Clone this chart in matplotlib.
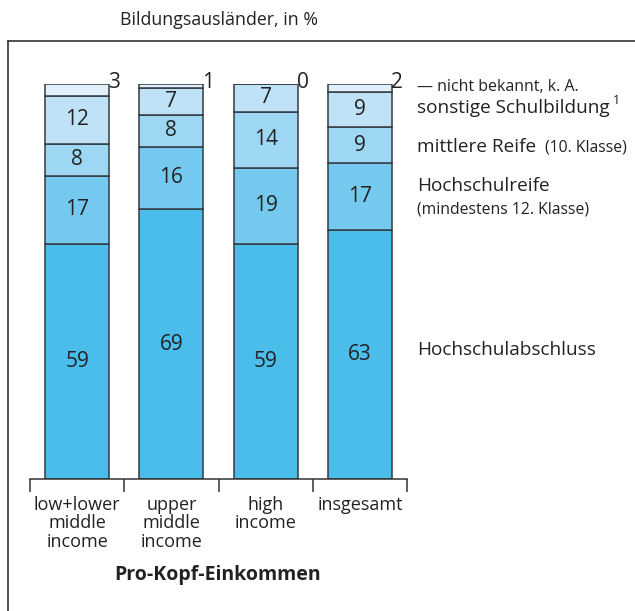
import matplotlib
matplotlib.use("Agg")
import matplotlib.pyplot as plt
from matplotlib.lines import Line2D
import numpy as np

plt.rcParams['font.family'] = ['Open Sans', 'DejaVu Sans']

categories = ["low+lower\nmiddle\nincome", "upper\nmiddle\nincome", "high\nincome", "insgesamt"]
hochschulabschluss = [59, 69, 59, 63]
hochschulreife = [17, 16, 19, 17]
mittlere_reife = [8, 8, 14, 9]
sonstige = [12, 7, 7, 9]
nicht_bekannt = [3, 1, 0, 2]

series = [hochschulabschluss, hochschulreife, mittlere_reife, sonstige, nicht_bekannt]
colors = ["#4bbdeb", "#75c9ef", "#9dd7f3", "#bfe2f6", "#dff0fb"]

W, H = 635, 611
fig = plt.figure(figsize=(W / 100, H / 100), dpi=100)

# axes: x -0.5..3.5 -> px 30..407 ; y 0..100 -> px 479..84
x0, x1 = 30, 407
y0, y1 = 479, 84
ax = fig.add_axes([x0 / W, (H - y0) / H, (x1 - x0) / W, (y0 - y1) / H])
ax.set_xlim(-0.5, 3.5)
ax.set_ylim(0, 100)

x = np.arange(len(categories))
bw = 0.68
data = np.array(series, dtype=float)
totals = data.sum(axis=0)
scaled = data / totals * 100  # rounded values sum to 99-101; bars are shown as 100 %
bottom = np.zeros(len(categories))
edge = "#333a40"
txt = "#222222"
for i, col in enumerate(colors):
    vals = scaled[i]
    ax.bar(x, vals, bw, bottom=bottom, color=col, edgecolor=edge, linewidth=1.1, zorder=2)
    for j, v in enumerate(vals):
        lab = f"{int(data[i, j])}"
        if i < 4:
            ax.text(x[j], bottom[j] + v / 2, lab, ha="center", va="center",
                    fontsize=15, color=txt, zorder=3)
        else:
            ax.text(x[j] + bw / 2 - 0.01, bottom[j] + v + 0.3, lab, ha="left", va="center",
                    fontsize=15, color=txt, zorder=3, clip_on=False)
    bottom += vals

for s in ["top", "right", "left"]:
    ax.spines[s].set_visible(False)
ax.spines["bottom"].set_color("#333333")
ax.spines["bottom"].set_linewidth(1.1)
ax.set_yticks([])
ax.set_xticks(np.arange(-0.5, 4.0, 1.0))
ax.set_xticklabels([])
ax.tick_params(axis="x", length=9, width=1.1, color="#333333", direction="out")
for j, c in enumerate(categories):
    ax.text(x[j], -4.3, c, ha="center", va="top", fontsize=13, color=txt,
            linespacing=1.02, clip_on=False)

# legend labels at right
lx = 417 / W
def fy(py):
    return 1 - py / H
fig.text(lx, fy(87), "— nicht bekannt, k. A.", fontsize=11.5, va="center", color=txt)
fig.text(lx, fy(108), "sonstige Schulbildung", fontsize=13.7, va="center", color=txt)
fig.text(613 / W, fy(100), "1", fontsize=9, va="center", color=txt)
fig.text(lx, fy(147), "mittlere Reife", fontsize=13.7, va="center", color=txt)
fig.text(545 / W, fy(148), "(10. Klasse)", fontsize=11.3, va="center", color=txt)
fig.text(lx, fy(186), "Hochschulreife", fontsize=13.7, va="center", color=txt)
fig.text(lx, fy(209), "(mindestens 12. Klasse)", fontsize=11.3, va="center", color=txt)
fig.text(lx, fy(350), "Hochschulabschluss", fontsize=13.7, va="center", color=txt)

fig.text(120 / W, fy(20), "Bildungsausländer, in %", fontsize=12.8, va="center", color=txt)
fig.text(218 / W, fy(575), "Pro-Kopf-Einkommen", fontsize=14, fontweight="bold",
         ha="center", va="center", color=txt)

# frame (left and top lines)
fig.add_artist(Line2D([7.5 / W, 7.5 / W], [0, fy(41)], color="#333333", linewidth=1.2,
                      transform=fig.transFigure))
fig.add_artist(Line2D([7.5 / W, 1.0], [fy(41), fy(41)], color="#333333", linewidth=1.2,
                      transform=fig.transFigure))

fig.savefig("out.png", dpi=100)
